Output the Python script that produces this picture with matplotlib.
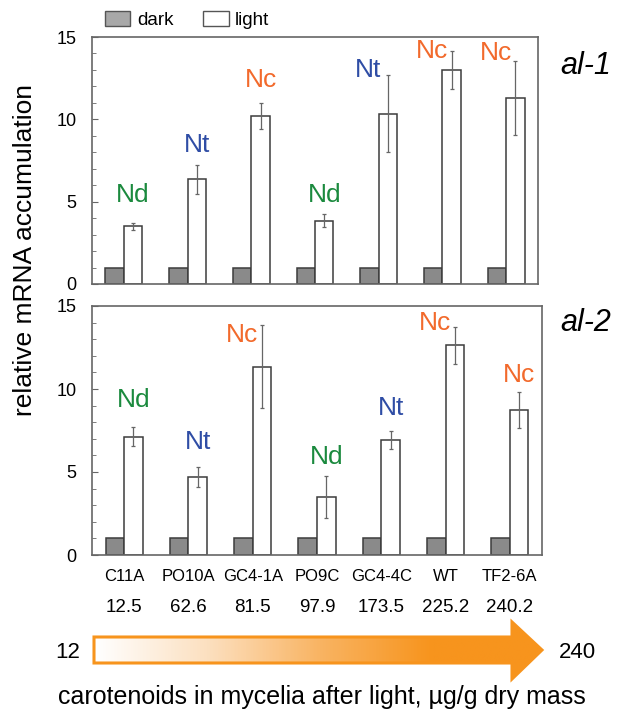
import numpy as np
import matplotlib
matplotlib.use("Agg")
import matplotlib.pyplot as plt
from matplotlib.patches import Patch, Polygon
from matplotlib.colors import LinearSegmentedColormap
from matplotlib.ticker import MultipleLocator

plt.rcParams['font.family'] = ['Liberation Sans', 'DejaVu Sans']

# data
strains = ['C11A', 'PO10A', 'GC4-1A', 'PO9C', 'GC4-4C', 'WT', 'TF2-6A']
carotenoids = ['12.5', '62.6', '81.5', '97.9', '173.5', '225.2', '240.2']

al1_dark = [1, 1, 1, 1, 1, 1, 1]
al1_light = [3.5, 6.35, 10.2, 3.85, 10.35, 13.0, 11.3]
al1_err = [0.2, 0.88, 0.8, 0.4, 2.35, 1.18, 2.26]
al1_tags = ['Nd', 'Nt', 'Nc', 'Nd', 'Nt', 'Nc', 'Nc']

al2_dark = [1, 1, 1, 1, 1, 1, 1]
al2_light = [7.13, 4.68, 11.35, 3.51, 6.95, 12.63, 8.73]
al2_err = [0.59, 0.6, 2.5, 1.27, 0.55, 1.13, 1.07]
al2_tags = ['Nd', 'Nt', 'Nc', 'Nd', 'Nt', 'Nc', 'Nc']

# tag placement (text layout only)
al1_tag_y = [5.4, 8.45, 12.4, 5.4, 12.97, 14.13, 14.03]
al1_tag_left = [0, 0, 0, 0, 1, 1, 1]
al2_tag_y = [9.34, 6.83, 13.25, 5.92, 8.83, 13.95, 10.84]
al2_tag_left = [0, 0, 1, 0, 0, 1, 0]

tag_colors = {'Nd': '#1B8A3E', 'Nt': '#2F4DA5', 'Nc': '#F26A2C'}
edge = '#3c3c3c'
spine_col = '#666666'
dark_fill = '#8a8a8a'

W, H = 618, 710
fig = plt.figure(figsize=(W / 100, H / 100), dpi=100)

ax1 = fig.add_axes([92 / W, 1 - 284 / H, 446 / W, 247 / H])
ax2 = fig.add_axes([92 / W, 1 - 555 / H, 450 / W, 249 / H])

bw = 0.29
x = np.arange(len(strains))


def draw_panel(ax, dark, light, err, tags, tag_y, tag_left, name, name_y):
    ax.bar(x - bw / 2, dark, bw, color=dark_fill, edgecolor=edge, linewidth=1.1, zorder=2)
    ax.bar(x + bw / 2, light, bw, color='white', edgecolor=edge, linewidth=1.1, zorder=2)
    ax.errorbar(x + bw / 2, light, yerr=err, fmt='none', ecolor='#666666',
                elinewidth=0.9, capsize=1.5, capthick=0.9, zorder=3)
    for i, t in enumerate(tags):
        tx = x[i] + bw / 2 - (0.31 if tag_left[i] else 0)
        ax.text(tx, tag_y[i], t, color=tag_colors[t], fontsize=19,
                ha='center', va='center')
    ax.set_xlim(-0.5, len(strains) - 0.5)
    ax.set_ylim(0, 15)
    ax.yaxis.set_major_locator(MultipleLocator(5))
    ax.yaxis.set_minor_locator(MultipleLocator(1))
    ax.tick_params(axis='y', which='both', direction='in', color=spine_col,
                   labelsize=13, pad=11)
    ax.tick_params(axis='y', which='major', length=4)
    ax.tick_params(axis='y', which='minor', length=3)
    ax.tick_params(axis='x', length=0)
    for s in ax.spines.values():
        s.set_color(spine_col)
        s.set_linewidth(1.2)
    fig.text(586 / W, 1 - name_y / H, name, fontsize=22, style='italic',
             ha='center', va='center')


draw_panel(ax1, al1_dark, al1_light, al1_err, al1_tags, al1_tag_y, al1_tag_left, 'al-1', 66)
draw_panel(ax2, al2_dark, al2_light, al2_err, al2_tags, al2_tag_y, al2_tag_left, 'al-2', 323)
ax1.set_xticks([])
ax2.set_xticks(x)
ax2.set_xticklabels(strains, fontsize=12)
ax2.tick_params(axis='x', pad=10)
for i, c in enumerate(carotenoids):
    ax2.text(x[i], -3.15, c, fontsize=13.5, ha='center', va='center', clip_on=False)

fig.text(25 / W, 1 - 250 / H, 'relative mRNA accumulation', rotation=90,
         fontsize=19, ha='center', va='center')

# legend
handles = [Patch(facecolor='#a8a8a8', edgecolor='#555555', linewidth=1.0),
           Patch(facecolor='white', edgecolor='#555555', linewidth=1.0)]
fig.legend(handles, ['dark', 'light'], ncol=2, frameon=False, fontsize=13.5,
           loc='center left', bbox_to_anchor=(105 / W, 1 - 20 / H),
           borderaxespad=0, borderpad=0, handlelength=1.35, handleheight=0.8,
           handletextpad=0.35, columnspacing=1.6)

# gradient arrow
ov = fig.add_axes([0, 0, 1, 1], zorder=-1)
ov.set_xlim(0, W)
ov.set_ylim(H, 0)
ov.axis('off')
orange = '#F7941D'
arrow_pts = [(94, 637), (512, 637), (512, 622), (542, 650), (512, 679), (512, 663), (94, 663)]
cmap = LinearSegmentedColormap.from_list('wo', ['white', '#FCE0C0', '#F9B463', orange, orange],
                                         N=256)
grad = np.linspace(0, 1, 400).reshape(1, -1)
img = ov.imshow(grad, cmap=cmap, extent=(94, 545, 680, 620),
                aspect='auto', interpolation='bilinear')
poly = Polygon(arrow_pts, closed=True, facecolor='none', edgecolor=orange,
               linewidth=2.2, joinstyle='miter')
ov.add_patch(poly)
img.set_clip_path(poly)
ov.set_xlim(0, W)
ov.set_ylim(H, 0)

fig.text(68 / W, 1 - 652 / H, '12', fontsize=16, ha='center', va='center')
fig.text(577 / W, 1 - 652 / H, '240', fontsize=16, ha='center', va='center')
fig.text(322 / W, 1 - 697 / H, 'carotenoids in mycelia after light, \u00b5g/g dry mass',
         fontsize=18, ha='center', va='center')

fig.savefig('out.png', dpi=100)
